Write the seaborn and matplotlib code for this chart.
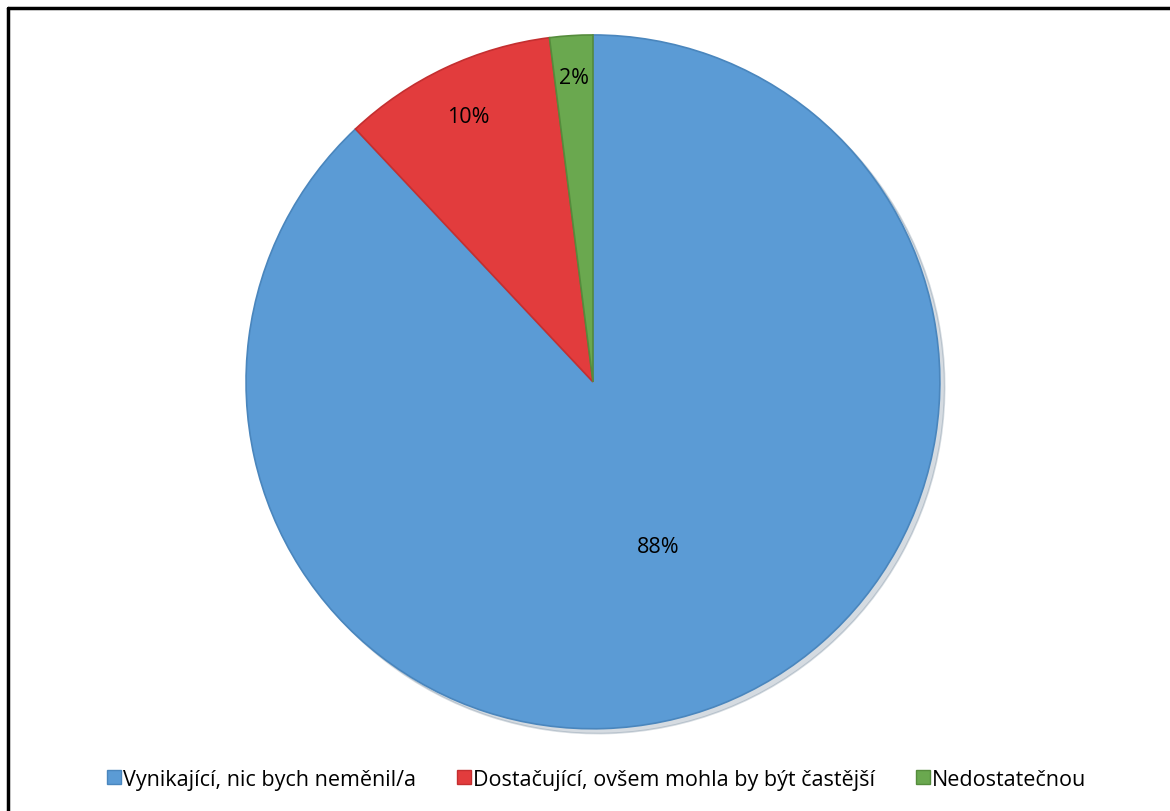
import numpy as np
import matplotlib
matplotlib.use("Agg")
import matplotlib.pyplot as plt
from matplotlib.lines import Line2D
import seaborn as sns

categories = ["Vynikající, nic bych neměnil/a", "Dostačující, ovšem mohla by být častější", "Nedostatečnou"]
values = [88, 10, 2]
colors = ["#5b9bd5", "#e23c3d", "#6aa84f"]
edge_colors = ["#4a86bd", "#c42f30", "#558c3c"]
label_dist = [0.51, 0.845, 0.88]

sns.set_theme(style="white")
plt.rcParams['font.family'] = ['Open Sans', 'DejaVu Sans']
plt.rcParams['text.color'] = 'black'

fig = plt.figure(figsize=(11.7, 8.12), dpi=100)
ax = fig.add_axes([0.2103, 0.101, 0.593, 0.855])

wedges, _ = ax.pie(values, colors=colors, startangle=90, counterclock=False,
                   wedgeprops=dict(linewidth=1.2),
                   shadow=dict(ox=0.01, oy=-0.01, shade=0.5, alpha=0.2))
for w, ec in zip(wedges, edge_colors):
    w.set_edgecolor(ec)

total = sum(values)
for w, v, d in zip(wedges, values, label_dist):
    ang = np.deg2rad((w.theta1 + w.theta2) / 2)
    ax.text(d * np.cos(ang), d * np.sin(ang), f"{round(100 * v / total)}%",
            ha="center", va="center", fontsize=15.5, color="black")
ax.set_xlim(-1, 1)
ax.set_ylim(-1, 1)
ax.set_aspect("equal")
ax.axis("off")

handles = [Line2D([], [], marker="s", linestyle="none", markersize=10,
                  markerfacecolor=c, markeredgecolor=ec)
           for c, ec in zip(colors, edge_colors)]
leg = fig.legend(handles, categories, loc="center", bbox_to_anchor=(0.5094, 0.039), ncol=3,
                 frameon=False, fontsize=15.5, handletextpad=0.0, columnspacing=1.85,
                 handlelength=0.8)
for t in leg.get_texts():
    t.set_color("black")

# outer frame
fig.add_artist(Line2D([0.0068, 1.0], [0.989, 0.989], color="black", lw=2.5, transform=fig.transFigure))
fig.add_artist(Line2D([0.0068, 0.0068], [0.0, 0.989], color="black", lw=2.5, transform=fig.transFigure))

fig.savefig("out.png", dpi=100)
